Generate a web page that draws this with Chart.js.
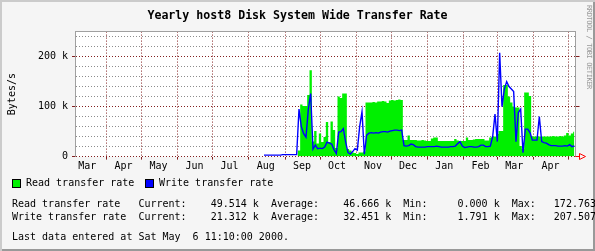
<!DOCTYPE html>
<html lang="en">
<head>
<meta charset="UTF-8">
<title>Yearly host8 Disk System Wide Transfer Rate</title>
<script src="https://cdn.jsdelivr.net/npm/chart.js"></script>
<style>
  * { box-sizing: border-box; margin: 0; padding: 0; }
  body {
    width: 595px; height: 251px; overflow: hidden;
    background: #F5F5F5;
    font-family: 'DejaVu Sans Mono', monospace;
    font-size: 10px; color: #000;
  }
  #frame {
    position: relative; width: 595px; height: 251px;
    box-shadow: inset 2px 2px 0 #CBCBCB, inset -2px -2px 0 #999999;
  }
  #chart { position: absolute; left: 0; top: 0; }
  h1 {
    position: absolute; left: 0; top: 8px; width: 595px;
    text-align: center; font-size: 11.6px; font-weight: bold; line-height: 14px;
  }
  .txt { position: absolute; white-space: pre; line-height: 12px; }
  .box { position: absolute; width: 9px; height: 9px; border: 1px solid #000; }
  .credit {
    position: absolute; left: 585px; top: 5px;
    writing-mode: vertical-rl; font-size: 7px; letter-spacing: -0.4px;
    line-height: 8px; color: #999;
  }
</style>
</head>
<body>
<div id="frame">
  <canvas id="chart" width="595" height="251"></canvas>
  <h1>Yearly host8 Disk System Wide Transfer Rate</h1>
  <div class="credit">RRDTOOL / TOBI OETIKER</div>

  <div class="box" style="left:12px; top:179px; background:#00F000"></div>
  <div class="txt" style="left:26px; top:177px">Read transfer rate</div>
  <div class="box" style="left:145px; top:179px; background:#0000FF"></div>
  <div class="txt" style="left:159px; top:177px">Write transfer rate</div>

  <div class="txt" style="left:12px; top:198px">Read transfer rate   Current:    49.514 k  Average:    46.666 k  Min:     0.000 k  Max:   172.763 k</div>
  <div class="txt" style="left:12px; top:211px">Write transfer rate  Current:    21.312 k  Average:    32.451 k  Min:     1.791 k  Max:   207.507 k</div>
  <div class="txt" style="left:12px; top:230.5px">Last data entered at Sat May  6 11:10:00 2000.</div>
</div>

<script>
  // day 0 = 5 Mar 1999, samples every 2 days, values in kBytes/s
  const startDay = 162;
  const stepDays = 2;
  const xMax = 429;

  const readRate = [
    0, 0, 0, 0, 0, 0, 0, 0, 0, 0, 0, 0, 0, 0, 0,
    12, 104, 101, 101, 123, 172.763, 30, 51, 26, 46, 29, 39, 69, 29, 70, 53, 17,
    120, 117, 126, 126, 15, 12, 8, 7, 5, 8, 8, 10,
    108, 108, 108, 109, 108, 110, 110, 111, 110, 107, 112, 113, 112, 113, 114, 113,
    33, 33, 42, 33, 33, 33, 32, 32, 33, 32, 31, 31, 36, 38, 38, 31, 31, 31, 31, 31,
    31, 31, 35, 32, 31, 31, 31, 38, 33, 33, 34, 35, 35, 35, 35, 32, 32, 38,
    40, 40, 45, 51, 51, 143, 143, 120, 108, 100, 98, 98, 21, 15, 128, 128, 121,
    40, 40, 40, 40, 40, 40, 40, 40, 40, 41, 40, 40, 41, 40, 42, 47, 42, 46, 49.514
  ];

  const writeRate = [
    3, 3, 3, 3, 3, 3, 3, 3, 4, 4, 4, 4, 4, 4, 4,
    95, 60, 46, 39, 95, 126, 15, 23, 16, 17, 16, 19, 29, 27, 25, 14, 6,
    49, 50, 56, 29, 8, 5, 10, 16, 13, 60, 90, 5,
    43, 47, 48, 47, 48, 47, 49, 50, 50, 49, 51, 52, 53, 53, 52, 53,
    22, 21, 22, 25, 24, 20, 19, 19, 19, 19, 20, 20, 20, 20, 21, 20, 19, 19, 19, 19,
    20, 20, 21, 26, 30, 21, 18, 19, 20, 20, 19, 19, 20, 23, 23, 20, 20, 21,
    40, 85, 30, 207.507, 100, 135, 150, 140, 135, 130, 30, 88, 95, 8, 55, 55, 48,
    33, 33, 33, 80, 30, 28, 27, 24, 22, 22, 22, 21, 21, 21, 22, 21, 24, 20, 21.312
  ];

  const monthNames = ['Mar', 'Apr', 'May', 'Jun', 'Jul', 'Aug', 'Sep', 'Oct',
                      'Nov', 'Dec', 'Jan', 'Feb', 'Mar', 'Apr'];
  const monthStartDay = [-4, 27, 57, 88, 118, 149, 180, 210, 241, 271, 302, 333, 362, 393, 423];
  const yTickValues = [0, 20, 40, 60, 80, 100, 120, 140, 160, 180, 200, 220, 240];

  const MGRID = '#821E1E';
  const GRID = '#8C8C8C';
  const FRAME = '#A0A0A0';
  const monoFont = { family: "'DejaVu Sans Mono', monospace", size: 10 };

  const xTicks = [];
  monthStartDay.forEach((d, i) => {
    if (d > 0 && d < xMax) xTicks.push({ value: d, boundary: true, name: '' });
    if (i < monthNames.length) xTicks.push({ value: d + 14.5, boundary: false, name: monthNames[i] });
  });
  xTicks.sort((a, b) => a.value - b.value);

  const toPoints = arr => arr.map((v, i) => ({ x: startDay + i * stepDays, y: v }));

  const isMajorY = v => v % 100 === 0;

  const rrdDecor = {
    id: 'rrdDecor',
    beforeDraw(chart) {
      const { ctx, chartArea: a } = chart;
      ctx.save();
      ctx.fillStyle = '#FFFFFF';
      ctx.fillRect(a.left, a.top, a.right - a.left, a.bottom - a.top);
      ctx.restore();
    },
    afterDraw(chart) {
      const { ctx, chartArea: a } = chart;
      ctx.save();
      ctx.lineWidth = 1;
      // top frame line
      const ty = Math.floor(a.top) + 0.5;
      ctx.strokeStyle = FRAME;
      ctx.beginPath();
      ctx.moveTo(Math.floor(a.left), ty);
      ctx.lineTo(Math.ceil(a.right), ty);
      ctx.stroke();
      // red arrow at the end of the time axis
      const zy = Math.floor(a.bottom) + 0.5;
      const rx = Math.floor(a.right) + 0.5;
      ctx.strokeStyle = '#FF0000';
      ctx.beginPath();
      ctx.moveTo(rx, zy);
      ctx.lineTo(rx + 4, zy);
      ctx.stroke();
      ctx.beginPath();
      ctx.moveTo(rx + 4, zy - 3);
      ctx.lineTo(rx + 10, zy);
      ctx.lineTo(rx + 4, zy + 3);
      ctx.closePath();
      ctx.stroke();
      ctx.restore();
    }
  };

  new Chart(document.getElementById('chart'), {
    type: 'line',
    plugins: [rrdDecor],
    data: {
      datasets: [
        {
          label: 'Write transfer rate',
          data: toPoints(writeRate),
          borderColor: '#0000FF',
          borderWidth: 1.4,
          pointRadius: 0,
          fill: false,
          tension: 0,
          order: 1
        },
        {
          label: 'Read transfer rate',
          data: toPoints(readRate),
          borderWidth: 0,
          backgroundColor: '#00F000',
          pointRadius: 0,
          fill: 'origin',
          stepped: 'middle',
          order: 2
        }
      ]
    },
    options: {
      responsive: false,
      animation: false,
      layout: { padding: { top: 31.6, left: 0, right: 0, bottom: 0 } },
      plugins: {
        legend: { display: false },
        tooltip: { enabled: false }
      },
      scales: {
        x: {
          type: 'linear',
          min: 0,
          max: xMax,
          z: 1,
          afterBuildTicks: s => { s.ticks = xTicks.map(t => ({ ...t })); },
          afterFit: s => { s.height = 94.4; },
          ticks: {
            autoSkip: false,
            maxRotation: 0,
            padding: 1,
            color: '#000',
            font: monoFont,
            callback: (v, i, ticks) => ticks[i].name
          },
          grid: {
            color: c => (c.tick && c.tick.boundary ? MGRID : 'transparent'),
            tickColor: c => (c.tick && c.tick.boundary ? MGRID : 'transparent'),
            tickLength: 3,
            lineWidth: 1
          },
          border: { display: false, dash: [1, 2] }
        },
        y: {
          position: 'left',
          min: 0,
          max: 250,
          z: 1,
          afterBuildTicks: s => { s.ticks = yTickValues.map(v => ({ value: v })); },
          afterFit: s => { s.width = 75; },
          ticks: {
            autoSkip: false,
            padding: 4,
            color: '#000',
            font: monoFont,
            callback: v => (isMajorY(v) ? (v === 0 ? '0' : v + ' k') : '')
          },
          grid: {
            color: c => (c.tick && isMajorY(c.tick.value) ? MGRID : GRID),
            tickColor: c => (c.tick && isMajorY(c.tick.value) ? MGRID : 'transparent'),
            tickLength: 3,
            lineWidth: 1
          },
          border: { color: FRAME, dash: [1, 2] },
          title: {
            display: true,
            text: 'Bytes/s',
            color: '#000',
            font: monoFont,
            padding: { top: 6.5, bottom: 0 }
          }
        },
        y2: {
          position: 'right',
          display: true,
          min: 0,
          max: 250,
          z: 1,
          afterBuildTicks: s => { s.ticks = yTickValues.map(v => ({ value: v })); },
          afterFit: s => { s.width = 19.5; },
          ticks: { display: false, autoSkip: false },
          grid: {
            drawOnChartArea: false,
            tickColor: c => (c.tick && isMajorY(c.tick.value) ? MGRID : 'transparent'),
            tickLength: 4
          },
          border: { color: FRAME }
        }
      }
    }
  });
</script>
</body>
</html>
